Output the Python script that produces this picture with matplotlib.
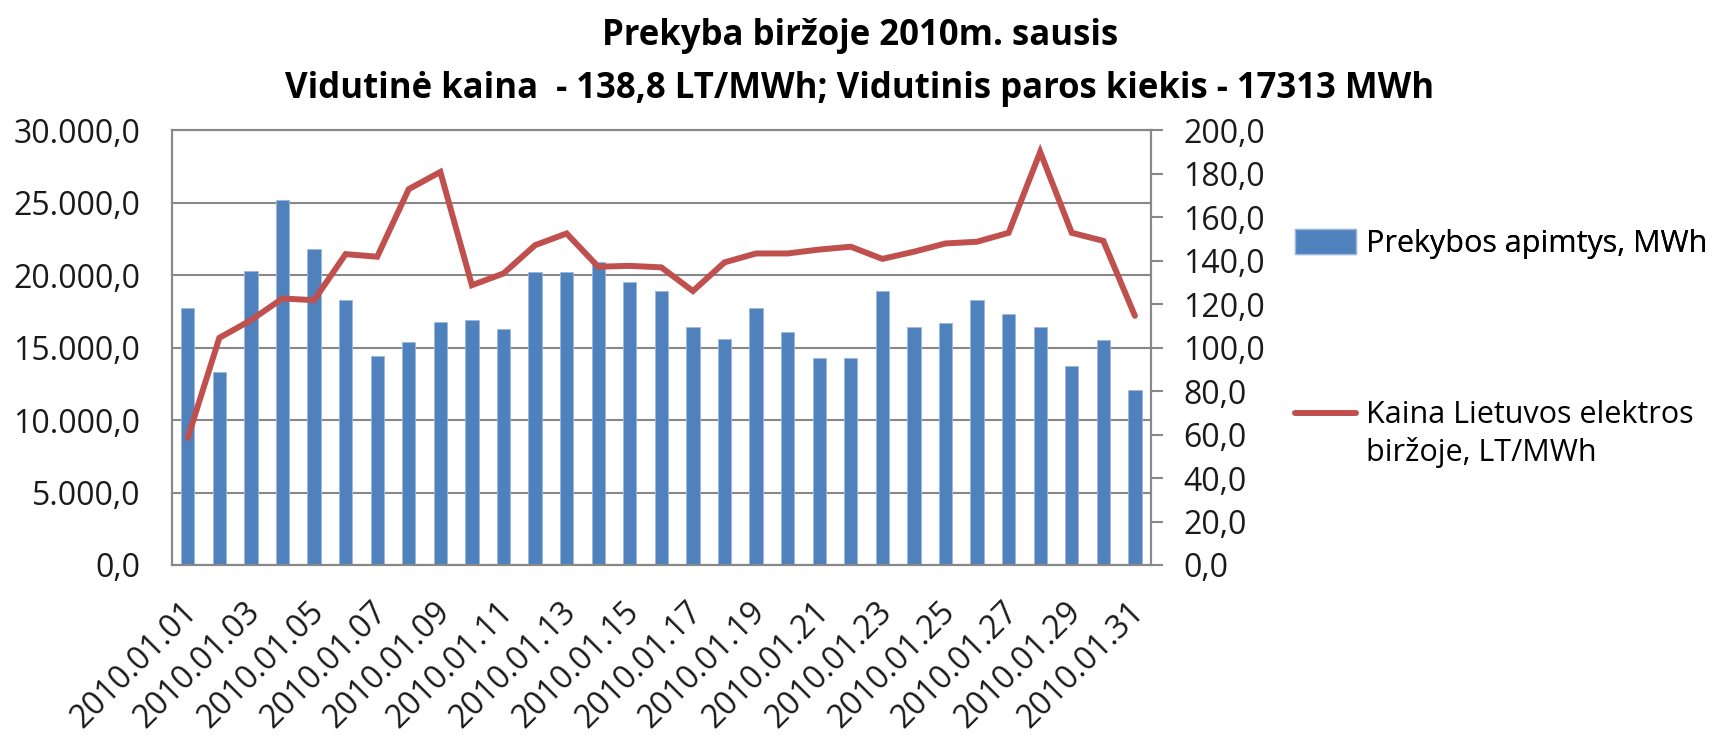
import matplotlib.pyplot as plt
import matplotlib.ticker as mticker
from matplotlib.patches import Patch
from matplotlib.lines import Line2D
from matplotlib.transforms import ScaledTranslation

plt.rcParams['font.family'] = ['Open Sans', 'DejaVu Sans']

# daily data, January 2010
days = ["2010.01.%02d" % d for d in range(1, 32)]
volume_mwh = [17700, 13300, 20300, 25200, 21800, 18300, 14400, 15400, 16800, 16900,
              16300, 20200, 20200, 20900, 19500, 18900, 16400, 15600, 17700, 16100,
              14300, 14300, 18900, 16400, 16700, 18300, 17300, 16400, 13700, 15500,
              12100]
price_lt = [58.5, 104.5, 112.6, 122.6, 121.8, 143.0, 141.8, 172.9, 180.8, 128.7,
            134.1, 147.1, 152.5, 137.2, 137.6, 136.9, 126.0, 139.2, 143.3, 143.3,
            145.1, 146.4, 140.8, 144.1, 147.9, 148.7, 152.8, 190.0, 152.8, 149.1,
            114.6]

title_1 = "Prekyba biržoje 2010m. sausis"
title_2 = "Vidutinė kaina  - 138,8 LT/MWh; Vidutinis paros kiekis - 17313 MWh"
label_bars = "Prekybos apimtys, MWh"
label_line = ["Kaina Lietuvos elektros", "biržoje, LT/MWh"]

bar_color = "#4F81BD"
line_color = "#C0504D"
grid_color = "#888888"
text_color = "#1a1a1a"


def lt_format(v, pos):
    s = "{:,.1f}".format(v)
    return s.replace(",", " ").replace(".", ",").replace(" ", ".")


fig = plt.figure(figsize=(17.2, 7.44), dpi=100)
ax = fig.add_axes([0.1, 0.2406, 0.569, 0.5844])
ax2 = ax.twinx()

x = list(range(len(days)))
ax.bar(x, volume_mwh, width=0.42, color=bar_color, edgecolor="#9DB9DE",
       linewidth=0.6, zorder=2)
ax2.plot(x, price_lt, color=line_color, linewidth=4.3, solid_joinstyle="miter",
         solid_capstyle="round")

ax.set_xlim(-0.5, len(days) - 0.5)
ax.set_ylim(0, 30000)
ax.set_yticks(range(0, 30001, 5000))
ax.yaxis.set_major_formatter(mticker.FuncFormatter(lt_format))
ax.grid(axis="y", color=grid_color, linewidth=1.5, zorder=0)
ax.set_axisbelow(True)
ax.tick_params(axis="y", length=0, pad=23, labelsize=23, labelcolor=text_color)

ax2.set_ylim(0, 200)
ax2.set_yticks(range(0, 201, 20))
ax2.yaxis.set_major_formatter(mticker.FuncFormatter(lt_format))
ax2.tick_params(axis="y", length=8.6, width=1.5, color=grid_color, pad=15,
                labelsize=23, labelcolor=text_color)

ax.set_xticks(x[::2])
ax.set_xticklabels(days[::2], rotation=45, ha="right", va="top",
                   rotation_mode="anchor", fontsize=23, color=text_color)
ax.tick_params(axis="x", length=0, pad=22)
shift = ScaledTranslation(-5 / 72, 0, fig.dpi_scale_trans)
for lbl in ax.get_xticklabels():
    lbl.set_transform(lbl.get_transform() + shift)

for a in (ax, ax2):
    for sp in a.spines.values():
        sp.set_color(grid_color)
        sp.set_linewidth(1.5)

fig.text(0.5, 0.952, title_1, ha="center", va="center", fontsize=25,
         fontweight="bold")
fig.text(0.5, 0.880, title_2, ha="center", va="center", fontsize=25,
         fontweight="bold")

# legend: bars entry, then line entry with its label on two rows
leg_bars = fig.legend([Patch(facecolor=bar_color, edgecolor="#9DB9DE")],
                      [label_bars], loc="center left",
                      bbox_to_anchor=(0.753, 0.672), frameon=False, fontsize=22,
                      handlelength=2.0, handleheight=0.9, handletextpad=0.33,
                      borderpad=0, borderaxespad=0)
fig.legend([Line2D([0], [0], color=line_color, linewidth=4.3,
                   solid_capstyle="round"),
            Line2D([0], [0], alpha=0)],
           label_line, loc="center left",
           bbox_to_anchor=(0.753, 0.4167), frameon=False, fontsize=22,
           handlelength=2.0, handletextpad=0.33, labelspacing=0.2,
           borderpad=0, borderaxespad=0)
fig.add_artist(leg_bars)

fig.savefig("out.png", dpi=100)
